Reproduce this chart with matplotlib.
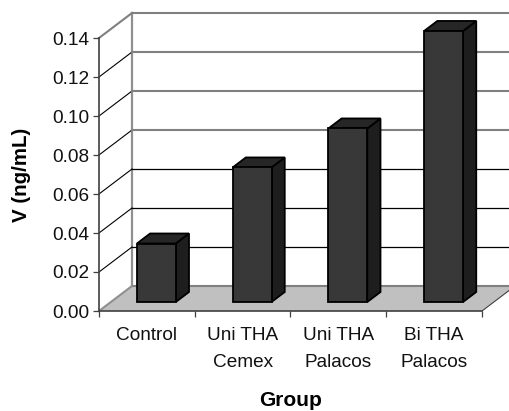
import matplotlib
matplotlib.use("Agg")
import matplotlib.pyplot as plt
from matplotlib.patches import Polygon, Rectangle
import numpy as np

plt.rcParams['font.family'] = ['Liberation Sans', 'DejaVu Sans']

groups = ["Control", "Uni THA\nCemex", "Uni THA\nPalacos", "Bi THA\nPalacos"]
values = [0.03, 0.069, 0.089, 0.139]
y_ticks = [0.00, 0.02, 0.04, 0.06, 0.08, 0.10, 0.12, 0.14]

W, H = 510, 411
fig = plt.figure(figsize=(W / 100, H / 100), dpi=100)
# front face of the fake 3d box, in pixels
left, right, top, bottom = 99, 482, 38, 311
ax = fig.add_axes([left / W, 1 - bottom / H, (right - left) / W, (bottom - top) / H])
ax.set_xlim(0, len(groups))
ax.set_ylim(0, 0.14)

# depth of the box in data units (33 px right, 25 px up)
dx = 33 / ((right - left) / len(groups))
dy = 25 / ((bottom - top) / 0.14)
bar_w = 0.406
# bar sits between 9 and 19 px of the 25 px depth
d0, d1 = 9 / 25, 19 / 25

# floor
ax.add_patch(Polygon([(0, 0), (4, 0), (4 + dx, dy), (dx, dy)], closed=True, fc='#c0c0c0',
                     ec='none', clip_on=False, zorder=1))
ax.plot([dx, 4 + dx], [dy, dy], color='#808080', lw=1.5, clip_on=False, zorder=1.5)
ax.plot([4, 4 + dx], [0, dy], color='#404040', lw=0.8, clip_on=False, zorder=1.5)
ax.plot([0, dx], [0, dy], color='#909090', lw=1.5, clip_on=False, zorder=1.5)
ax.plot([0, 4], [0, 0], color='#404040', lw=1.2, clip_on=False, zorder=1.6)

# back wall and side wall grid
ax.plot([dx, dx], [dy, 0.14 + dy], color='#909090', lw=1.6, clip_on=False, zorder=1)
for t in y_ticks[1:]:
    c = '#000000' if t < 0.13 else '#808080'
    ax.plot([0, dx], [t, t + dy], color=c, lw=0.8 if t < 0.13 else 1.5, clip_on=False, zorder=1)
    ax.plot([dx, 4 + dx], [t + dy, t + dy], color='#808080' if t > 0.07 else '#000000',
            lw=1.5 if t > 0.07 else 0.9, clip_on=False, zorder=1)

# bars, each one front / top / side
for i, v in enumerate(values):
    x0 = i + 0.5 - bar_w / 2 + 0.099
    x1 = x0 + bar_w
    b0 = d0 * dy
    v0 = b0 + v
    px = (d1 - d0) * dx
    py = (d1 - d0) * dy
    ax.add_patch(Polygon([(x1, b0), (x1 + px, b0 + py), (x1 + px, v0 + py), (x1, v0)], closed=True,
                         fc='#1e1e1e', ec='black', lw=1.3, clip_on=False, zorder=3))
    ax.add_patch(Polygon([(x0, v0), (x1, v0), (x1 + px, v0 + py), (x0 + px, v0 + py)], closed=True,
                         fc='#262626', ec='black', lw=1.3, clip_on=False, zorder=3))
    ax.add_patch(Rectangle((x0, b0), bar_w, v, fc='#383838', ec='black', lw=1.3,
                           clip_on=False, zorder=4))

for s in ['top', 'right', 'bottom']:
    ax.spines[s].set_visible(False)
ax.spines['left'].set_linewidth(1.2)
ax.spines['left'].set_color('#404040')
ax.patch.set_visible(False)

ax.set_yticks(y_ticks)
ax.set_yticklabels([f"{t:.2f}" for t in y_ticks], fontsize=13.7)
ax.tick_params(axis='y', length=4, width=0.9, pad=3, color='#404040', labelcolor='#111111')
ax.set_xticks(range(5))
ax.set_xticklabels([])
ax.tick_params(axis='x', length=4.5, width=0.9, color='#404040')
for i, g in enumerate(groups):
    ax.text(i + 0.5, -0.0082, g, ha='center', va='top', fontsize=13.7, linespacing=1.75, color='#111111')

fig.text(291 / W, 1 - 400 / H, "Group", ha='center', va='center', fontsize=15, fontweight='bold')
fig.text(22 / W, 1 - 175 / H, "V (ng/mL)", ha='center', va='center', rotation=90, fontsize=14.8,
         fontweight='bold')

fig.savefig('out.png', dpi=100)
